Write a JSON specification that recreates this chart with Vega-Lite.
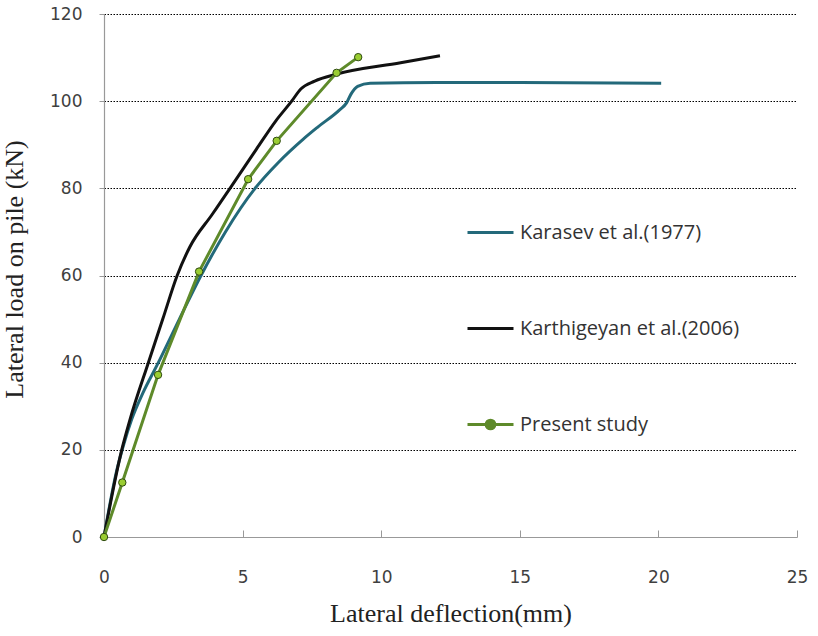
{
  "$schema": "https://vega.github.io/schema/vega-lite/v6.json",
  "width": 693,
  "height": 523,
  "autosize": {"type": "none"},
  "padding": {"left": 104, "top": 14, "right": 21, "bottom": 99},
  "background": "white",
  "config": {"view": {"stroke": null}},
  "data": {"values": [
    {"series": "Karasev et al.(1977)", "x": 0, "y": 0},
    {"series": "Karasev et al.(1977)", "x": 0.45, "y": 15},
    {"series": "Karasev et al.(1977)", "x": 0.7, "y": 21},
    {"series": "Karasev et al.(1977)", "x": 1.0, "y": 27},
    {"series": "Karasev et al.(1977)", "x": 1.4, "y": 33},
    {"series": "Karasev et al.(1977)", "x": 1.96, "y": 40},
    {"series": "Karasev et al.(1977)", "x": 2.72, "y": 50},
    {"series": "Karasev et al.(1977)", "x": 3.5, "y": 60},
    {"series": "Karasev et al.(1977)", "x": 4.38, "y": 70},
    {"series": "Karasev et al.(1977)", "x": 5.45, "y": 80},
    {"series": "Karasev et al.(1977)", "x": 6.3, "y": 86},
    {"series": "Karasev et al.(1977)", "x": 7.19, "y": 91.3},
    {"series": "Karasev et al.(1977)", "x": 7.7, "y": 94},
    {"series": "Karasev et al.(1977)", "x": 8.5, "y": 98},
    {"series": "Karasev et al.(1977)", "x": 8.75, "y": 99.6},
    {"series": "Karasev et al.(1977)", "x": 8.9, "y": 101.5},
    {"series": "Karasev et al.(1977)", "x": 9.15, "y": 103.4},
    {"series": "Karasev et al.(1977)", "x": 9.6, "y": 104.1},
    {"series": "Karasev et al.(1977)", "x": 12, "y": 104.3},
    {"series": "Karasev et al.(1977)", "x": 15, "y": 104.3},
    {"series": "Karasev et al.(1977)", "x": 20.1, "y": 104.1},
    {"series": "Karthigeyan et al.(2006)", "x": 0, "y": 0},
    {"series": "Karthigeyan et al.(2006)", "x": 0.64, "y": 20},
    {"series": "Karthigeyan et al.(2006)", "x": 0.94, "y": 27},
    {"series": "Karthigeyan et al.(2006)", "x": 1.6, "y": 40},
    {"series": "Karthigeyan et al.(2006)", "x": 2.12, "y": 50},
    {"series": "Karthigeyan et al.(2006)", "x": 2.64, "y": 60},
    {"series": "Karthigeyan et al.(2006)", "x": 3.1, "y": 66.6},
    {"series": "Karthigeyan et al.(2006)", "x": 3.9, "y": 74},
    {"series": "Karthigeyan et al.(2006)", "x": 4.6, "y": 80.5},
    {"series": "Karthigeyan et al.(2006)", "x": 5.5, "y": 89},
    {"series": "Karthigeyan et al.(2006)", "x": 6.2, "y": 95.5},
    {"series": "Karthigeyan et al.(2006)", "x": 6.77, "y": 100},
    {"series": "Karthigeyan et al.(2006)", "x": 7.1, "y": 102.8},
    {"series": "Karthigeyan et al.(2006)", "x": 7.6, "y": 104.6},
    {"series": "Karthigeyan et al.(2006)", "x": 8.4, "y": 106.2},
    {"series": "Karthigeyan et al.(2006)", "x": 10.7, "y": 108.8},
    {"series": "Karthigeyan et al.(2006)", "x": 12.12, "y": 110.4},
    {"series": "Present study", "x": 0, "y": 0},
    {"series": "Present study", "x": 0.66, "y": 12.5},
    {"series": "Present study", "x": 1.95, "y": 37.2},
    {"series": "Present study", "x": 3.43, "y": 60.9},
    {"series": "Present study", "x": 5.2, "y": 82.1},
    {"series": "Present study", "x": 6.23, "y": 90.9},
    {"series": "Present study", "x": 8.39, "y": 106.5},
    {"series": "Present study", "x": 9.17, "y": 110.1}
  ]},
  "encoding": {
    "x": {"field": "x", "type": "quantitative",
      "scale": {"domain": [0, 25], "nice": false},
      "axis": {"values": [0, 5, 10, 15, 20, 25], "title": "Lateral deflection(mm)",
        "grid": false, "domainColor": "#999", "domainWidth": 1.2, "labelFlush": false,
        "tickColor": "#999", "tickSize": -7, "labelPadding": 39,
        "labelFont": "DejaVu Sans", "labelFontSize": 17, "labelColor": "#3f3f3f",
        "titleFont": "Liberation Serif", "titleFontSize": 26, "titleFontWeight": "normal",
        "titleColor": "#222", "titlePadding": 15}},
    "y": {"field": "y", "type": "quantitative",
      "scale": {"domain": [0, 120], "nice": false},
      "axis": {"values": [0, 20, 40, 60, 80, 100, 120], "title": "Lateral load on pile (kN)",
        "grid": true, "gridColor": "#000", "gridDash": [1.5, 1.5], "gridWidth": 1.2,
        "domainColor": "#999", "domainWidth": 1.2,
        "tickColor": "#999", "tickSize": 5, "labelPadding": 17,
        "labelFont": "DejaVu Sans", "labelFontSize": 17, "labelColor": "#3f3f3f",
        "titleFont": "Liberation Serif", "titleFontSize": 26, "titleFontWeight": "normal",
        "titleColor": "#222", "titlePadding": 22, "titleY": 255}},
    "color": {"field": "series", "type": "nominal",
      "scale": {"domain": ["Karasev et al.(1977)", "Karthigeyan et al.(2006)", "Present study"],
        "range": ["#23697a", "#111111", "#5e8a2a"]},
      "legend": {"orient": "none", "legendX": 362, "legendY": 194, "title": null,
        "symbolSize": 2116, "symbolStrokeWidth": 3, "rowPadding": 61, "labelLimit": 400,
        "labelFont": "Open Sans", "labelFontSize": 20, "labelColor": "#333", "labelOffset": 5,
        "encode": {"symbols": {"update": {
          "shape": {"signal": "datum.value === 'Present study' ? 'M-1,0H-0.19M0.19,0H1M0.19,0A0.19,0.19,0,1,1,-0.19,0A0.19,0.19,0,1,1,0.19,0Z' : 'M-1,0H1'"},
          "fill": {"signal": "datum.value === 'Present study' ? '#9acd32' : 'transparent'"},
          "strokeWidth": {"value": 3}}}}}}
  },
  "layer": [
    {"transform": [{"filter": "datum.series !== 'Present study'"}],
     "mark": {"type": "line", "interpolate": "monotone", "strokeWidth": 3}},
    {"transform": [{"filter": "datum.series === 'Present study'"}],
     "mark": {"type": "line", "strokeWidth": 3}},
    {"transform": [{"filter": "datum.series === 'Present study'"}],
     "mark": {"type": "point", "filled": true, "fill": "#9acd32", "stroke": "#2e4a10", "strokeWidth": 1, "size": 55, "opacity": 1}}
  ]
}
